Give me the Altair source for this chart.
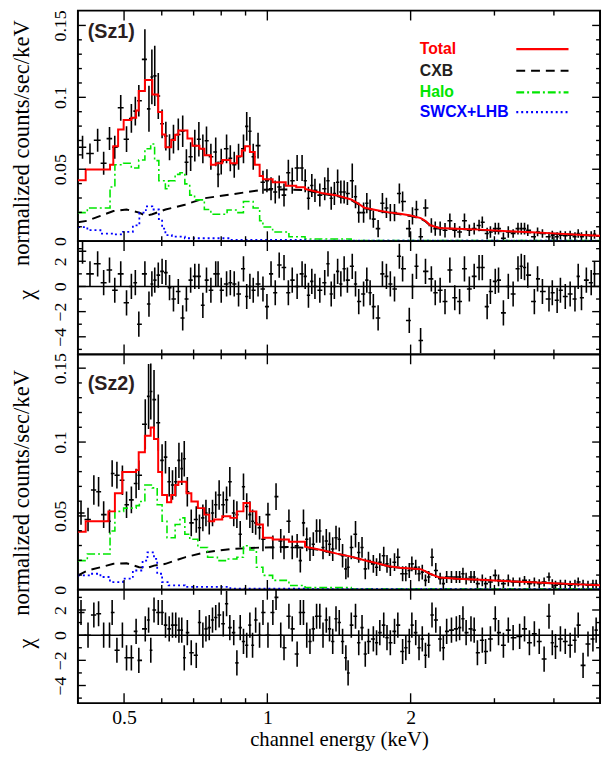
import altair as alt
import numpy as np
import pandas as pd

SERIF = "Liberation Serif, Times New Roman, DejaVu Serif, serif"
SANS = "Liberation Sans, Arial, Helvetica, sans-serif"

# ---------------- Sz1 : data ----------------
sz1_energy = [0.409, 0.424, 0.440, 0.453, 0.466, 0.478, 0.492, 0.506, 0.518, 0.528,
              0.537, 0.553, 0.564, 0.572, 0.580, 0.590, 0.601, 0.612, 0.623, 0.635,
              0.650, 0.664, 0.676, 0.690, 0.704, 0.718, 0.732, 0.745, 0.761, 0.779,
              0.788, 0.800, 0.821, 0.836, 0.852, 0.870, 0.891, 0.905, 0.919, 0.934,
              0.956, 0.979, 0.998, 1.018, 1.039, 1.059, 1.084, 1.107, 1.128, 1.155,
              1.183, 1.201, 1.220, 1.240, 1.259, 1.289, 1.320, 1.341, 1.362, 1.383,
              1.405, 1.427, 1.450, 1.473, 1.508, 1.532, 1.556, 1.593, 1.618, 1.644,
              1.670, 1.709, 1.745, 1.779, 1.813, 1.850, 1.894, 1.924, 1.987, 2.018,
              2.057, 2.099, 2.149, 2.211, 2.253, 2.307, 2.362, 2.418, 2.476, 2.535,
              2.595, 2.657, 2.720, 2.785, 2.829, 2.896, 2.942, 3.012, 3.060, 3.133,
              3.208, 3.284, 3.362, 3.416, 3.470, 3.525, 3.639, 3.696, 3.784, 3.906,
              3.969, 4.063, 4.128, 4.226, 4.327, 4.429, 4.499, 4.571, 4.680, 4.791,
              4.868]
sz1_rate = [0.0653, 0.0609, 0.0702, 0.0542, 0.0713, 0.0653, 0.0927, 0.0709, 0.0853, 0.0904,
            0.0976, 0.1264, 0.0920, 0.1142, 0.1149, 0.1009, 0.0816, 0.0731, 0.0653, 0.0709,
            0.0742, 0.0764, 0.0549, 0.0587, 0.0664, 0.0709, 0.0642, 0.0698, 0.0587, 0.0620,
            0.0464, 0.0553, 0.0642, 0.0576, 0.0531, 0.0587, 0.0642, 0.0798, 0.0764, 0.0587,
            0.0664, 0.0409, 0.0420, 0.0364, 0.0342, 0.0376, 0.0320, 0.0476, 0.0420, 0.0509,
            0.0509, 0.0420, 0.0298, 0.0387, 0.0353, 0.0320, 0.0364, 0.0420, 0.0298, 0.0331,
            0.0409, 0.0342, 0.0342, 0.0331, 0.0420, 0.0309, 0.0198, 0.0198, 0.0264, 0.0220,
            0.0153, 0.0087, 0.0264, 0.0231, 0.0198, 0.0198, 0.0331, 0.0276, 0.0087, 0.0176,
            0.0220, 0.0031, 0.0231, 0.0109, 0.0087, 0.0087, 0.0076, 0.0142, 0.0076, 0.0064,
            0.0142, 0.0076, 0.0087, 0.0109, 0.0131, 0.0053, 0.0064, 0.0087, 0.0087, 0.0020,
            0.0064, 0.0053, 0.0087, 0.0087, 0.0087, 0.0076, 0.0031, 0.0064, 0.0053, 0.0031,
            0.0042, 0.0031, 0.0042, 0.0038, 0.0042, 0.0031, 0.0053, 0.0031, 0.0042, 0.0038,
            0.0047]
sz1_err = [0.008, 0.007, 0.008, 0.008, 0.008, 0.008, 0.009, 0.009, 0.010, 0.010,
           0.011, 0.021, 0.016, 0.019, 0.021, 0.016, 0.010, 0.010, 0.009, 0.010,
           0.011, 0.011, 0.009, 0.010, 0.011, 0.012, 0.010, 0.010, 0.009, 0.010,
           0.009, 0.009, 0.010, 0.009, 0.009, 0.009, 0.010, 0.010, 0.010, 0.009,
           0.009, 0.008, 0.008, 0.008, 0.008, 0.008, 0.008, 0.009, 0.009, 0.009,
           0.009, 0.008, 0.008, 0.008, 0.008, 0.008, 0.008, 0.009, 0.008, 0.008,
           0.009, 0.008, 0.008, 0.008, 0.012, 0.008, 0.007, 0.007, 0.007, 0.007,
           0.006, 0.006, 0.007, 0.007, 0.006, 0.006, 0.007, 0.007, 0.006, 0.006,
           0.006, 0.006, 0.006, 0.005, 0.005, 0.005, 0.005, 0.005, 0.005, 0.004,
           0.005, 0.004, 0.004, 0.004, 0.004, 0.004, 0.004, 0.004, 0.004, 0.004,
           0.004, 0.003, 0.004, 0.004, 0.004, 0.004, 0.003, 0.003, 0.003, 0.003,
           0.003, 0.003, 0.003, 0.003, 0.003, 0.003, 0.003, 0.003, 0.003, 0.003,
           0.003]
sz1_chi = [2.8, 1.0, 1.8, 0.3, 1.3, -0.3, 1.0, -1.3, 0.0, 0.3,
           -3.0, 1.0, -1.4, 0.2, 0.5, 0.9, 1.2, 1.1, -0.1, -1.0,
           -0.4, -2.5, -1.0, 0.5, 0.8, 0.8, -1.5, 0.5, -0.3, 1.0,
           1.0, -0.3, 0.2, 0.3, 0.2, -0.6, 1.4, -0.8, 0.0, -0.3,
           0.2, -0.2, -1.6, 1.0, -0.5, 1.7, 1.5, -0.5, 0.5, 0.0,
           1.0, 0.8, -0.7, 0.4, 0.0, -0.3, 0.3, 1.8, -0.6, 0.0,
           1.2, 0.2, 1.4, 0.5, 1.6, 0.2, -1.2, -0.6, 0.5, -0.5,
           -1.6, -2.5, 1.0, 0.8, 0.2, -0.2, 2.4, 1.4, -2.7, 0.0,
           1.6, -4.3, 1.2, 0.6, -0.5, -0.3, -1.2, 1.3, -0.9, -1.2,
           1.4, -0.2, 0.8, 1.5, 1.5, -1.6, -0.4, 0.4, 0.5, -2.1,
           0.0, -0.6, 1.4, 1.6, 1.5, 0.9, -1.2, 0.6, -0.4, -1.0,
           -0.5, -1.1, -0.3, -0.8, -0.6, -1.0, 0.8, -0.9, 0.5, 0.3,
           1.0]

# ---------------- Sz1 : models ----------------
sz1_total_e = [0.400, 0.4153, 0.4672, 0.4746, 0.4858, 0.4990, 0.5178, 0.5301, 0.5367, 0.5530,
               0.5732, 0.5897, 0.6010, 0.6106, 0.6281, 0.6401, 0.6502, 0.6794, 0.6957, 0.7202,
               0.7373, 0.7609, 0.7792, 0.8040, 0.8361, 0.8630, 0.8838, 0.8977, 0.9190, 0.9410,
               0.9634, 0.9788, 1.026, 1.093, 1.15, 1.20, 1.30, 1.40, 1.50, 1.55,
               1.60, 1.70, 1.80, 1.90, 2.00, 2.10, 2.15, 2.20, 2.30, 2.50,
               2.80, 3.20, 3.60, 4.00, 4.50, 5.00]
sz1_total_v = [0.0424, 0.0498, 0.0531, 0.0660, 0.0776, 0.0842, 0.0858, 0.0909, 0.1044, 0.1120,
               0.1020, 0.0898, 0.0742, 0.0653, 0.0704, 0.0740, 0.0769, 0.0713, 0.0664, 0.0642,
               0.0598, 0.0531, 0.0542, 0.0564, 0.0542, 0.0590, 0.0631, 0.0660, 0.0620, 0.0531,
               0.0453, 0.0431, 0.0409, 0.0385, 0.0375, 0.0362, 0.0335, 0.0318, 0.0290, 0.0262,
               0.0232, 0.0215, 0.0200, 0.0190, 0.0178, 0.0160, 0.0140, 0.0110, 0.0092, 0.0086,
               0.0080, 0.0069, 0.0062, 0.0054, 0.0045, 0.0037]
sz1_cxb_e = [0.400, 0.419, 0.446, 0.475, 0.506, 0.538, 0.556, 0.573, 0.611, 0.671,
             0.737, 0.836, 0.979, 1.09, 1.20, 1.30, 1.40, 1.50, 1.55, 1.60,
             1.70, 1.80, 1.90, 2.00, 2.10, 2.15, 2.20, 2.30, 2.50, 2.80,
             3.20, 3.60, 4.00, 4.50, 5.00]
sz1_cxb_v = [0.0131, 0.0142, 0.0176, 0.0209, 0.0220, 0.0198, 0.0176, 0.0187, 0.0220, 0.0253,
             0.0298, 0.0324, 0.0358, 0.0360, 0.0355, 0.0330, 0.0313, 0.0286, 0.0258, 0.0229,
             0.0212, 0.0197, 0.0187, 0.0175, 0.0157, 0.0137, 0.0107, 0.0090, 0.0084, 0.0078,
             0.0067, 0.0060, 0.0052, 0.0043, 0.0035]
sz1_halo_e = [0.400, 0.4186, 0.4672, 0.4783, 0.4990, 0.5178, 0.5367, 0.5530, 0.5687, 0.5796,
              0.5916, 0.6106, 0.6202, 0.6401, 0.6553, 0.6709, 0.6870, 0.7033, 0.7373, 0.7609,
              0.8231, 0.8630, 0.8907, 0.9336, 0.9634, 0.9788, 1.026, 1.11, 1.20, 1.50, 5.00]
sz1_halo_v = [0.0198, 0.0231, 0.0376, 0.0531, 0.0542, 0.0509, 0.0564, 0.0642, 0.0676, 0.0560,
              0.0420, 0.0364, 0.0420, 0.0464, 0.0476, 0.0398, 0.0320, 0.0287, 0.0220, 0.0187,
              0.0216, 0.0198, 0.0276, 0.0231, 0.0142, 0.0098, 0.0064, 0.0030, 0.0015, 0.0005, 0.0005]
sz1_swcx_e = [0.400, 0.4186, 0.4460, 0.4746, 0.4974, 0.5217, 0.5384, 0.5556, 0.5732, 0.5916,
              0.6010, 0.6106, 0.6300, 0.6709, 0.8361, 1.20, 5.00]
sz1_swcx_v = [0.0098, 0.0076, 0.0053, 0.0047, 0.0064, 0.0109, 0.0198, 0.0242, 0.0220, 0.0153,
              0.0087, 0.0042, 0.0031, 0.0020, 0.0009, 0.0004, 0.0004]

# ---------------- Sz2 : data ----------------
sz2_energy = [0.406, 0.420, 0.432, 0.442, 0.453, 0.466, 0.472, 0.483, 0.496, 0.506,
              0.518, 0.530, 0.537, 0.554, 0.563, 0.569, 0.578, 0.590, 0.601, 0.611,
              0.622, 0.632, 0.642, 0.652, 0.661, 0.669, 0.679, 0.692, 0.709, 0.720,
              0.732, 0.743, 0.755, 0.767, 0.779, 0.792, 0.808, 0.821, 0.834, 0.850,
              0.863, 0.877, 0.891, 0.905, 0.919, 0.931, 0.945, 0.963, 0.979, 1.003,
              1.027, 1.043, 1.067, 1.084, 1.110, 1.128, 1.155, 1.173,
              1.191, 1.210, 1.229, 1.249, 1.269, 1.289, 1.309, 1.330, 1.351, 1.372,
              1.394, 1.416, 1.439, 1.462, 1.478, 1.501, 1.532, 1.556, 1.581, 1.606,
              1.631, 1.670, 1.696, 1.723, 1.756, 1.784, 1.813, 1.850, 1.880, 1.924,
              1.954, 1.987, 2.012, 2.050, 2.083, 2.116, 2.149, 2.183, 2.218, 2.259,
              2.307, 2.343, 2.381, 2.437, 2.495, 2.535, 2.576, 2.616, 2.678, 2.720,
              2.763, 2.829, 2.874, 2.942, 3.012, 3.060, 3.133, 3.208, 3.284, 3.389,
              3.470, 3.553, 3.639, 3.726, 3.815, 3.906, 3.969, 4.031, 4.128, 4.226,
              4.327, 4.429, 4.499, 4.606, 4.717, 4.831, 4.907]
sz2_rate = [0.0520, 0.0476, 0.0676, 0.0664, 0.0509, 0.0464, 0.0787, 0.0776, 0.0742, 0.0576,
            0.0609, 0.0720, 0.0776, 0.1120, 0.1309, 0.1342, 0.1287, 0.1131, 0.0876, 0.0898,
            0.0731, 0.0709, 0.0731, 0.0876, 0.0820, 0.0887, 0.0664, 0.0453, 0.0476, 0.0420,
            0.0487, 0.0520, 0.0464, 0.0520, 0.0576, 0.0642, 0.0576, 0.0609, 0.0731, 0.0520,
            0.0509, 0.0376, 0.0698, 0.0564, 0.0509, 0.0464, 0.0453, 0.0420, 0.0342, 0.0509,
            0.0287, 0.0631, 0.0331, 0.0287, 0.0464, 0.0287, 0.0298, 0.0198,
            0.0453, 0.0342, 0.0276, 0.0309, 0.0398, 0.0398, 0.0287, 0.0331, 0.0309, 0.0276,
            0.0353, 0.0342, 0.0231, 0.0142, 0.0153, 0.0287, 0.0376, 0.0253, 0.0287, 0.0142,
            0.0198, 0.0176, 0.0153, 0.0187, 0.0231, 0.0176, 0.0153, 0.0187, 0.0220, 0.0109,
            0.0109, 0.0131, 0.0176, 0.0153, 0.0109, 0.0120, 0.0064, 0.0087, 0.0220, 0.0131,
            0.0076, 0.0042, 0.0087, 0.0087, 0.0087, 0.0087, 0.0109, 0.0076, 0.0087, 0.0087,
            0.0042, 0.0064, 0.0042, 0.0053, 0.0098, 0.0064, 0.0042, 0.0064, 0.0053, 0.0053,
            0.0064, 0.0042, 0.0053, 0.0042, 0.0053, 0.0087, 0.0042, 0.0031, 0.0038, 0.0038,
            0.0031, 0.0038, 0.0053, 0.0038, 0.0031, 0.0038, 0.0038]
sz2_err = [0.008, 0.008, 0.010, 0.010, 0.009, 0.008, 0.009, 0.009, 0.010, 0.009,
           0.009, 0.010, 0.010, 0.017, 0.022, 0.019, 0.020, 0.019, 0.011, 0.011,
           0.010, 0.010, 0.010, 0.012, 0.011, 0.012, 0.010, 0.009, 0.009, 0.009,
           0.009, 0.009, 0.009, 0.009, 0.009, 0.010, 0.009, 0.009, 0.010, 0.009,
           0.009, 0.009, 0.009, 0.009, 0.009, 0.008, 0.008, 0.008, 0.008, 0.008,
           0.008, 0.009, 0.008, 0.008, 0.008, 0.008, 0.008, 0.008,
           0.009, 0.008, 0.008, 0.008, 0.008, 0.008, 0.008, 0.008, 0.008, 0.008,
           0.008, 0.008, 0.008, 0.007, 0.007, 0.008, 0.009, 0.007, 0.007, 0.007,
           0.006, 0.006, 0.006, 0.006, 0.006, 0.006, 0.006, 0.006, 0.006, 0.005,
           0.005, 0.005, 0.005, 0.005, 0.005, 0.005, 0.004, 0.004, 0.006, 0.005,
           0.004, 0.004, 0.004, 0.004, 0.004, 0.004, 0.004, 0.004, 0.004, 0.004,
           0.004, 0.004, 0.004, 0.004, 0.004, 0.004, 0.003, 0.004, 0.003, 0.003,
           0.003, 0.003, 0.003, 0.003, 0.003, 0.003, 0.003, 0.003, 0.003, 0.003,
           0.003, 0.003, 0.003, 0.003, 0.003, 0.003, 0.003]
sz2_chi = [1.8, 0.0, 1.6, 1.7, 0.0, 0.0, 1.8, -1.2, 0.0, -1.8,
           -1.8, 0.3, -2.0, 0.5, 1.2, -1.2, 2.0, 1.8, 1.8, 0.8,
           0.5, 0.8, 0.8, 0.4, 0.4, -1.8, 0.2, -1.4, -1.6, 1.0,
           0.0, 0.5, 0.6, 1.2, 1.4, 1.6, 0.9, 2.5, 0.6, 0.2,
           -2.2, 0.6, -0.5, -0.8, 0.8, -0.8, 1.2, 0.0, 1.8, 0.0,
           1.8, 3.0, 0.0, -1.0, 1.5, 0.5, -1.5, 1.8,
           1.8, 0.0, -0.5, 0.5, 1.5, 1.5, 0.0, 1.2, 0.5, -0.5,
           1.3, 1.0, -0.5, -1.8, -3.0, 0.8, 1.5, -0.6, 0.6, -1.5,
           -0.5, -0.3, -0.6, 0.2, 0.8, -0.2, -0.6, 0.3, 0.8, -1.3,
           -1.0, -0.5, 0.8, 0.2, -1.0, -0.3, -1.6, -0.8, 1.6, 1.2,
           -0.3, -1.0, 0.3, 0.4, 0.5, 0.6, 1.3, 0.2, 0.5, 0.4,
           -1.4, -0.4, -1.3, -0.3, 1.3, 0.2, -0.8, 0.4, -0.2, -0.1,
           0.5, -0.6, 0.1, -0.5, -1.9, 1.5, -0.6, -0.9, -0.3, -0.5,
           -0.8, -0.4, 0.8, -2.4, -0.7, -0.3, 0.4]

# ---------------- Sz2 : models ----------------
sz2_total_e = [0.400, 0.4153, 0.4635, 0.4783, 0.4958, 0.5301, 0.5367, 0.5530, 0.5687, 0.5778,
               0.5897, 0.6010, 0.6154, 0.6281, 0.6401, 0.6502, 0.6762, 0.6924, 0.7145, 0.7373,
               0.7551, 0.7731, 0.8040, 0.8361, 0.8630, 0.8907, 0.9190, 0.9484, 0.9788, 1.026,
               1.11, 1.20, 1.30, 1.40, 1.50, 1.60, 1.70, 1.80, 1.90, 2.00,
               2.10, 2.15, 2.20, 2.30, 2.50, 2.80, 3.00, 3.50, 4.00, 4.50, 5.00]
sz2_total_v = [0.0393, 0.0464, 0.0531, 0.0653, 0.0798, 0.0810, 0.0931, 0.1042, 0.1098, 0.1020,
               0.0798, 0.0642, 0.0593, 0.0642, 0.0709, 0.0731, 0.0653, 0.0598, 0.0553, 0.0509,
               0.0464, 0.0476, 0.0498, 0.0487, 0.0531, 0.0587, 0.0531, 0.0442, 0.0353, 0.0340,
               0.0325, 0.0292, 0.0270, 0.0245, 0.0225, 0.0200, 0.0180, 0.0160, 0.0150, 0.0145,
               0.0140, 0.0125, 0.0108, 0.0084, 0.0075, 0.0068, 0.0063, 0.0053, 0.0044, 0.0037, 0.0031]
sz2_cxb_e = [0.400, 0.419, 0.446, 0.475, 0.506, 0.538, 0.560, 0.578, 0.611, 0.671,
             0.737, 0.836, 0.979, 1.10, 1.20, 1.30, 1.40, 1.50, 1.60, 1.70,
             1.80, 1.90, 2.00, 2.10, 2.15, 2.20, 2.30, 2.50, 2.80, 3.00,
             3.50, 4.00, 4.50, 5.00]
sz2_cxb_v = [0.0098, 0.0131, 0.0153, 0.0176, 0.0180, 0.0153, 0.0149, 0.0164, 0.0176, 0.0220,
             0.0253, 0.0276, 0.0287, 0.0290, 0.0285, 0.0268, 0.0244, 0.0224, 0.0199, 0.0179,
             0.0159, 0.0149, 0.0144, 0.0139, 0.0124, 0.0107, 0.0083, 0.0075, 0.0068, 0.0063,
             0.0053, 0.0044, 0.0037, 0.0031]
sz2_halo_e = [0.400, 0.4186, 0.4672, 0.4783, 0.4990, 0.5301, 0.5384, 0.5530, 0.5732, 0.5869,
              0.6010, 0.6154, 0.6401, 0.6553, 0.6709, 0.6870, 0.7145, 0.7490, 0.7853, 0.8231,
              0.8630, 0.8907, 0.9190, 0.9484, 0.9788, 1.026, 1.11, 1.20, 1.50, 5.00]
sz2_halo_v = [0.0198, 0.0242, 0.0398, 0.0531, 0.0553, 0.0570, 0.0598, 0.0709, 0.0690, 0.0576,
              0.0464, 0.0353, 0.0442, 0.0487, 0.0376, 0.0342, 0.0287, 0.0220, 0.0198, 0.0209,
              0.0220, 0.0298, 0.0270, 0.0153, 0.0098, 0.0064, 0.0030, 0.0015, 0.0005, 0.0005]
sz2_swcx_e = [0.400, 0.426, 0.446, 0.467, 0.4974, 0.5217, 0.5469, 0.5600, 0.5778, 0.5869,
              0.6010, 0.6202, 0.6709, 0.8361, 1.20, 5.00]
sz2_swcx_v = [0.0098, 0.0109, 0.0087, 0.0053, 0.0076, 0.0131, 0.0198, 0.0253, 0.0209, 0.0109,
              0.0053, 0.0031, 0.0020, 0.0009, 0.0004, 0.0004]

# ---------------- axes / labels ----------------
panel_labels = ["(Sz1)", "(Sz2)"]
legend_names = ["Total", "CXB", "Halo", "SWCX+LHB"]
spec_major = [0, 0.05, 0.1, 0.15]
spec_minor = [0.01, 0.02, 0.03, 0.04, 0.06, 0.07, 0.08, 0.09, 0.11, 0.12, 0.13, 0.14]
chi_major = [-4, -2, 0, 2]
chi_minor = [-5, -3, -1, 1, 3]
x_major = [0.5, 1, 2]
x_minor = [0.6, 0.7, 0.8, 0.9, 3, 4]
x_domain = [0.4, 5.0]
spec1_domain = [0, 0.1603]
spec2_domain = [0, 0.1593]
chi_domain = [-5.4, 3.6]

# ---------------- styling ----------------
W = 530
H_SPEC1, H_RES, H_SPEC2 = 234, 115, 239
RED, GREEN, BLUE, DARK = "#ff0000", "#00e600", "#0000ff", "#231f20"
model_styles = [("Total", RED, 2.0, None), ("CXB", "#000000", 2.0, [9, 6]),
                ("Halo", GREEN, 1.6, [8, 3, 2, 3]), ("SWCX+LHB", BLUE, 1.8, [2, 3])]
legend_text_colors = [RED, DARK, GREEN, BLUE]
legend_rows = [39, 61, 83, 103]
LABEL_SIZE = 18
TITLE_SIZE = 23

xscale = alt.Scale(type="log", domain=x_domain, nice=False)
spec1_scale = alt.Scale(domain=spec1_domain, nice=False, zero=False)
spec2_scale = alt.Scale(domain=spec2_domain, nice=False, zero=False)
chi_scale = alt.Scale(domain=chi_domain, nice=False, zero=False)


def y_axis(title, values, title_x, title_y):
    return alt.Axis(values=values, format="~g", ticks=False, domain=False, grid=False,
                    labelAngle=270, labelAlign="center", labelBaseline="bottom",
                    labelPadding=9, labelFont=SERIF, labelFontSize=LABEL_SIZE, labelColor="black",
                    labelFlush=False, labelOverlap=False,
                    title=title, titleFont=SERIF, titleFontSize=TITLE_SIZE,
                    titleFontWeight="normal", titleColor="black", titleAngle=270,
                    titleAlign="center", titleBaseline="middle", titleX=title_x, titleY=title_y)


bottom_x_axis = alt.Axis(values=x_major, format="~g", ticks=False, domain=False, grid=False,
                         labelAngle=0, labelPadding=5, labelFont=SERIF, labelFontSize=20,
                         labelColor="black", labelFlush=False, labelOverlap=False,
                         title="channel energy (keV)", titleFont=SERIF, titleFontSize=21,
                         titleFontWeight="normal", titleColor="black", titlePadding=1)


def bin_edges(e):
    e = np.asarray(e, float)
    mid = np.sqrt(e[:-1] * e[1:])
    lo = np.concatenate([[e[0] ** 2 / mid[0]], mid])
    hi = np.concatenate([mid, [e[-1] ** 2 / mid[-1]]])
    return lo, hi


def obs_frame(e, v, err, chi):
    lo, hi = bin_edges(e)
    v, err, chi = np.asarray(v), np.asarray(err), np.asarray(chi)
    return pd.DataFrame({"e": e, "lo": lo, "hi": hi, "v": v, "vlo": v - err, "vhi": v + err,
                         "chi": chi, "clo": chi - 1, "chi_hi": chi + 1})


def model_path(e, v, step_until):
    xs, ys = [], []
    for i in range(len(e)):
        if e[i] < step_until and i + 1 < len(e):
            xs += [e[i], e[i + 1]]
            ys += [v[i], v[i]]
        else:
            xs.append(e[i])
            ys.append(v[i])
    return pd.DataFrame({"e": xs, "v": ys, "i": range(len(xs))})


def tick_layers(X, Y, H, ymaj, ymin):
    out = []
    for vals, L in ((ymaj, 8), (ymin, 4)):
        d = pd.DataFrame({"t": vals})
        for a, b in ((0, L), (W, W - L)):
            out.append(alt.Chart(d).mark_rule(color="black", strokeWidth=1.4)
                       .encode(y=Y("t"), x=alt.value(a), x2=alt.value(b)))
    for vals, L in ((x_major, 10), (x_minor, 5)):
        d = pd.DataFrame({"t": vals})
        for a, b in ((0, L), (H, H - L)):
            out.append(alt.Chart(d).mark_rule(color="black", strokeWidth=1.4)
                       .encode(x=X("t"), y=alt.value(a), y2=alt.value(b)))
    return out


one = pd.DataFrame({"a": [0]})


def make_panel(df, yf, ylo, yhi, yscale, yaxis, xaxis, H, ymaj, ymin, extra):
    def X(f):
        return alt.X(f, type="quantitative", scale=xscale, axis=xaxis)

    def Y(f):
        return alt.Y(f, type="quantitative", scale=yscale, axis=yaxis)

    base = alt.Chart(df)
    vbar = base.mark_rule(color="black", strokeWidth=1.6, clip=True).encode(
        x=X("e"), y=Y(ylo), y2=alt.Y2(yhi))
    hbar = base.mark_rule(color="black", strokeWidth=1.6, clip=True).encode(
        x=X("lo"), x2=alt.X2("hi"), y=Y(yf))
    layers = [vbar, hbar] + extra(X, Y) + tick_layers(X, Y, H, ymaj, ymin)
    return alt.layer(*layers).properties(width=W, height=H)


def spectrum_extra(models, label, label_y, with_legend):
    def build(X, Y):
        out = []
        for k in [1, 2, 3, 0]:  # CXB, Halo, SWCX below, Total on top
            name, color, sw, dash = model_styles[k]
            kw = dict(color=color, strokeWidth=sw, clip=True)
            if dash is not None:
                kw["strokeDash"] = dash
            out.append(alt.Chart(models[k]).mark_line(**kw).encode(
                x=X("e"), y=Y("v"), order=alt.Order("i:Q")))
        out.append(alt.Chart(one).mark_text(align="left", baseline="middle", font=SANS,
                                            fontWeight="bold", fontSize=20, color="#2b2020")
                   .encode(x=alt.value(10), y=alt.value(label_y), text=alt.value(label)))
        if with_legend:
            for k in range(4):
                name, color, sw, dash = model_styles[k]
                out.append(alt.Chart(one).mark_text(align="left", baseline="middle", font=SANS,
                                                    fontWeight="bold", fontSize=16,
                                                    color=legend_text_colors[k])
                           .encode(x=alt.value(347), y=alt.value(legend_rows[k]),
                                   text=alt.value(legend_names[k])))
                kw = dict(color=color, strokeWidth=2.2)
                if dash is not None:
                    kw["strokeDash"] = dash
                out.append(alt.Chart(one).mark_rule(**kw).encode(
                    x=alt.value(445), x2=alt.value(498), y=alt.value(legend_rows[k])))
        return out
    return build


def residual_extra(X, Y):
    return [alt.Chart(pd.DataFrame({"z": [0]})).mark_rule(color="black", strokeWidth=1.5)
            .encode(y=Y("z"))]


d1 = obs_frame(sz1_energy, sz1_rate, sz1_err, sz1_chi)
d2 = obs_frame(sz2_energy, sz2_rate, sz2_err, sz2_chi)

m1 = [model_path(sz1_total_e, sz1_total_v, 1.2), model_path(sz1_cxb_e, sz1_cxb_v, 0),
      model_path(sz1_halo_e, sz1_halo_v, 10), model_path(sz1_swcx_e, sz1_swcx_v, 10)]
m2 = [model_path(sz2_total_e, sz2_total_v, 1.2), model_path(sz2_cxb_e, sz2_cxb_v, 0),
      model_path(sz2_halo_e, sz2_halo_v, 10), model_path(sz2_swcx_e, sz2_swcx_v, 10)]

TITLE = "normalized counts/sec/keV"
p1 = make_panel(d1, "v", "vlo", "vhi", spec1_scale, y_axis(TITLE, spec_major, -57, 134),
                None, H_SPEC1, spec_major, spec_minor,
                spectrum_extra(m1, panel_labels[0], 22, True))
p2 = make_panel(d1, "chi", "clo", "chi_hi", chi_scale, y_axis("χ", chi_major, -52, 54),
                None, H_RES, chi_major, chi_minor, residual_extra)
p3 = make_panel(d2, "v", "vlo", "vhi", spec2_scale, y_axis(TITLE, spec_major, -57, 140),
                None, H_SPEC2, spec_major, spec_minor,
                spectrum_extra(m2, panel_labels[1], 30, False))
p4 = make_panel(d2, "chi", "clo", "chi_hi", chi_scale, y_axis("χ", chi_major, -52, 54),
                bottom_x_axis, H_RES, chi_major, chi_minor, residual_extra)

chart = (alt.vconcat(p1, p2, p3, p4, spacing=0, bounds="flush")
         .properties(padding={"left": 1, "right": 0, "top": -5, "bottom": 0},
                     background="white")
         .configure_view(stroke="black", strokeWidth=2, fill="white"))

chart.save("out.html", embed_options={"renderer": "svg", "actions": False})
